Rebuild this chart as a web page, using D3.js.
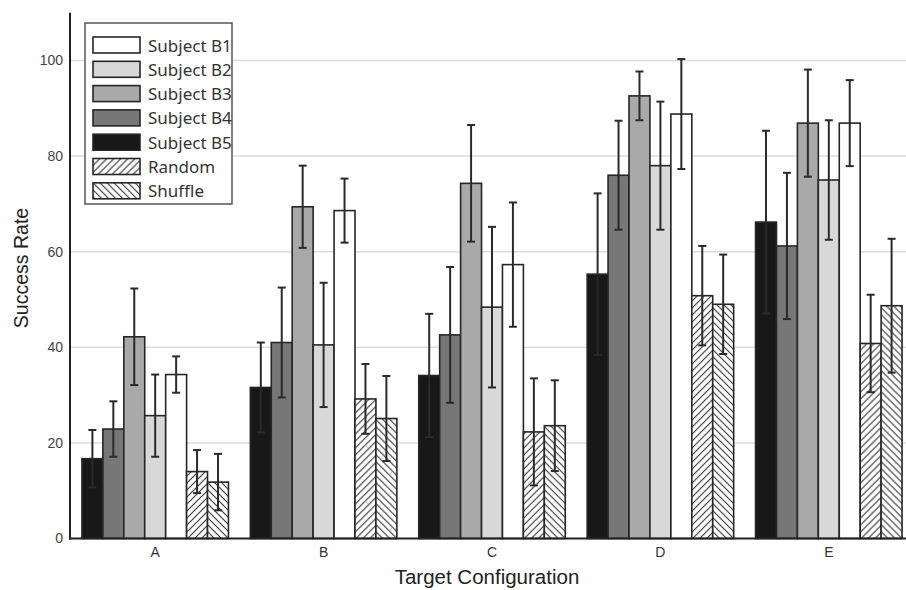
<!DOCTYPE html>
<html>
<head>
<meta charset="utf-8">
<script src="https://cdn.jsdelivr.net/npm/d3@7"></script>
<style>
  html, body { margin: 0; padding: 0; background: #fff; }
  svg { display: block; }
</style>
</head>
<body>
<svg id="chart" width="906" height="590"></svg>
<script>
// ---- data ----
const categories = ["A", "B", "C", "D", "E"];
const seriesOrder = ["Subject B5", "Subject B4", "Subject B3", "Subject B2", "Subject B1", "Random", "Shuffle"];
const legendOrder = ["Subject B1", "Subject B2", "Subject B3", "Subject B4", "Subject B5", "Random", "Shuffle"];

const meanB5 = [16.7, 31.6, 34.1, 55.3, 66.2];
const errB5  = [6.0, 9.4, 12.9, 16.9, 19.1];
const meanB4 = [22.9, 41.0, 42.6, 76.0, 61.2];
const errB4  = [5.8, 11.5, 14.2, 11.4, 15.3];
const meanB3 = [42.2, 69.4, 74.3, 92.6, 86.9];
const errB3  = [10.1, 8.6, 12.2, 5.1, 11.2];
const meanB2 = [25.7, 40.5, 48.4, 78.0, 75.0];
const errB2  = [8.6, 13.0, 16.8, 13.4, 12.5];
const meanB1 = [34.3, 68.6, 57.3, 88.8, 86.9];
const errB1  = [3.8, 6.7, 13.0, 11.5, 9.0];
const meanRandom  = [14.0, 29.2, 22.3, 50.8, 40.8];
const errRandom   = [4.5, 7.3, 11.2, 10.4, 10.2];
const meanShuffle = [11.8, 25.1, 23.6, 49.0, 48.7];
const errShuffle  = [5.9, 8.9, 9.5, 10.4, 14.0];

const yTicks = [0, 20, 40, 60, 80, 100];
const yTitle = "Success Rate";
const xTitle = "Target Configuration";

const seriesData = {
  "Subject B5": { mean: meanB5, err: errB5 },
  "Subject B4": { mean: meanB4, err: errB4 },
  "Subject B3": { mean: meanB3, err: errB3 },
  "Subject B2": { mean: meanB2, err: errB2 },
  "Subject B1": { mean: meanB1, err: errB1 },
  "Random":     { mean: meanRandom, err: errRandom },
  "Shuffle":    { mean: meanShuffle, err: errShuffle }
};

// ---- styles ----
const fills = {
  "Subject B1": "#ffffff",
  "Subject B2": "#d8d8d8",
  "Subject B3": "#a9a9a9",
  "Subject B4": "#777777",
  "Subject B5": "#181818",
  "Random": "url(#hatchRandom)",
  "Shuffle": "url(#hatchShuffle)"
};

const svg = d3.select("#chart");

const defs = svg.append("defs");
function hatch(id, d) {
  const p = defs.append("pattern").attr("id", id)
    .attr("patternUnits", "userSpaceOnUse")
    .attr("width", 7).attr("height", 7);
  p.append("rect").attr("width", 7).attr("height", 7).attr("fill", "#fff");
  p.append("path").attr("d", d).attr("stroke", "#333").attr("stroke-width", 1.1).attr("fill", "none");
}
hatch("hatchRandom", "M-1,1 l2,-2 M0,7 l7,-7 M6,8 l2,-2");
hatch("hatchShuffle", "M-1,6 l2,2 M0,0 l7,7 M6,-1 l2,2");

// ---- scales ----
const y = d3.scaleLinear().domain([0, 110]).range([538.5, 12.7]);
const x0 = d3.scaleBand().domain(categories).range([71, 913]).paddingInner(0.13).paddingOuter(0.065);
const x1 = d3.scaleBand().domain(seriesOrder).range([0, x0.bandwidth()]).padding(0);

const axisLeftX = 70;
const plotRight = 906;

// gridlines
svg.append("g").selectAll("line").data(yTicks.filter(t => t > 0)).join("line")
  .attr("x1", axisLeftX).attr("x2", plotRight)
  .attr("y1", d => y(d)).attr("y2", d => y(d))
  .attr("stroke", "#dcdcdc").attr("stroke-width", 1.5);

// bars
const groups = svg.append("g").selectAll("g").data(categories).join("g")
  .attr("transform", d => `translate(${x0(d)},0)`);

const cells = groups.selectAll("g.cell")
  .data((c, i) => seriesOrder.map(s => ({ s, v: seriesData[s].mean[i], e: seriesData[s].err[i] })))
  .join("g").attr("class", "cell");

cells.append("rect")
  .attr("x", d => x1(d.s))
  .attr("y", d => y(d.v))
  .attr("width", x1.bandwidth())
  .attr("height", d => y(0) - y(d.v))
  .attr("fill", d => fills[d.s])
  .attr("stroke", "#262626").attr("stroke-width", 1.6);

// error bars
const capW = 8;
cells.append("line")
  .attr("x1", d => x1(d.s) + x1.bandwidth() / 2).attr("x2", d => x1(d.s) + x1.bandwidth() / 2)
  .attr("y1", d => y(d.v + d.e)).attr("y2", d => y(d.v - d.e))
  .attr("stroke", "#2a2a2a").attr("stroke-width", 2);
cells.append("line")
  .attr("x1", d => x1(d.s) + x1.bandwidth() / 2 - capW / 2).attr("x2", d => x1(d.s) + x1.bandwidth() / 2 + capW / 2)
  .attr("y1", d => y(d.v + d.e)).attr("y2", d => y(d.v + d.e))
  .attr("stroke", "#2a2a2a").attr("stroke-width", 2);
cells.append("line")
  .attr("x1", d => x1(d.s) + x1.bandwidth() / 2 - capW / 2).attr("x2", d => x1(d.s) + x1.bandwidth() / 2 + capW / 2)
  .attr("y1", d => y(d.v - d.e)).attr("y2", d => y(d.v - d.e))
  .attr("stroke", "#2a2a2a").attr("stroke-width", 2);

// axes
const yAxis = d3.axisLeft(y).tickValues(yTicks).tickSize(0).tickPadding(7);
const gy = svg.append("g").attr("transform", `translate(${axisLeftX},0)`).call(yAxis);
gy.select(".domain").remove();
gy.selectAll("text").attr("font-family", "'Liberation Sans', Arial, sans-serif")
  .attr("font-size", 14).attr("fill", "#444");

const xAxis = d3.axisBottom(x0).tickSize(0).tickPadding(9);
const gx = svg.append("g").attr("transform", `translate(0,${y(0)})`).call(xAxis);
gx.select(".domain").remove();
gx.selectAll("text").attr("font-family", "'Liberation Sans', Arial, sans-serif")
  .attr("font-size", 14).attr("fill", "#333");

svg.append("line").attr("x1", axisLeftX).attr("x2", axisLeftX)
  .attr("y1", y(110)).attr("y2", y(0) + 1)
  .attr("stroke", "#222").attr("stroke-width", 2);
svg.append("line").attr("x1", axisLeftX - 1).attr("x2", plotRight)
  .attr("y1", y(0)).attr("y2", y(0))
  .attr("stroke", "#222").attr("stroke-width", 2);

// titles
svg.append("text").attr("x", 487).attr("y", 584)
  .attr("text-anchor", "middle")
  .attr("font-family", "'Liberation Sans', Arial, sans-serif")
  .attr("font-size", 20.5).attr("fill", "#222").text(xTitle);
svg.append("text").attr("transform", "translate(28,268) rotate(-90)")
  .attr("text-anchor", "middle")
  .attr("font-family", "'Liberation Sans', Arial, sans-serif")
  .attr("font-size", 19.5).attr("fill", "#222").text(yTitle);

// legend
const lg = svg.append("g").attr("transform", "translate(85,23)");
lg.append("rect").attr("width", 147).attr("height", 181)
  .attr("fill", "#fff").attr("stroke", "#555").attr("stroke-width", 1.5);
const rows = lg.selectAll("g.row").data(legendOrder).join("g").attr("class", "row")
  .attr("transform", (d, i) => `translate(8,${14 + i * 24.3})`);
rows.append("rect").attr("width", 47).attr("height", 16)
  .attr("fill", d => fills[d]).attr("stroke", "#262626").attr("stroke-width", 1.6);
rows.append("text").attr("x", 55).attr("y", 14.5)
  .attr("font-family", "'Noto Sans', 'Open Sans', sans-serif")
  .attr("font-size", 17).attr("fill", "#333").text(d => d);
</script>
</body>
</html>
